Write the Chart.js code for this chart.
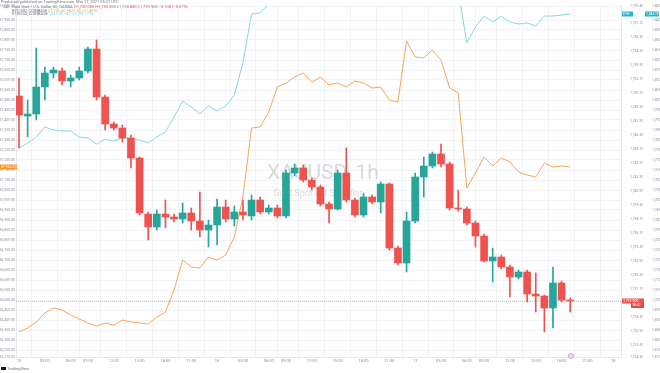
<!DOCTYPE html>
<html>
<head>
<meta charset="utf-8">
<script src="https://cdn.jsdelivr.net/npm/chart.js@4.4.1/dist/chart.umd.min.js"></script>
<style>
  html, body { margin: 0; padding: 0; background: #fff; }
  #wrap { width: 660px; height: 373px; position: relative; }
</style>
</head>
<body>
<div id="wrap"><canvas id="chart" width="660" height="373"></canvas></div>
<script>
// XAUUSD 1h candles
const opens = [1750.4,1748.4,1748.6,1751.3,1752.7,1752.9,1751.9,1752.2,1752.9,1755.1,
  1750.3,1747.6,1747.2,1746.2,1744.2,1738.6,1737.3,1738.6,1738.3,1738.1,
  1738.7,1737.9,1737.0,1737.5,1739.3,1738.1,1738.8,1738.4,1740.0,1738.8,
  1739.2,1738.4,1742.7,1743.2,1742.0,1741.3,1739.6,1739.1,1742.7,1740.0,
  1738.5,1740.3,1739.8,1741.6,1735.2,1733.7,1737.9,1742.3,1743.4,1744.6,
  1743.6,1739.2,1739.1,1737.7,1736.4,1733.9,1734.3,1733.3,1732.3,1732.8,
  1730.6,1730.4,1729.2,1731.7,1730.0];
const highs = [1752.2,1750.0,1755.2,1753.3,1753.3,1753.2,1752.5,1753.3,1755.3,1756.0,
  1750.5,1747.8,1747.5,1746.5,1744.3,1738.8,1739.0,1740.0,1738.6,1739.7,
  1739.2,1740.8,1738.0,1740.1,1740.0,1739.4,1740.0,1740.5,1740.3,1739.5,
  1739.5,1743.0,1743.6,1743.5,1742.2,1741.5,1739.8,1743.0,1745.2,1740.2,
  1740.7,1740.5,1741.8,1741.7,1735.4,1738.8,1742.7,1744.3,1744.8,1745.6,
  1743.8,1741.0,1739.3,1737.9,1736.6,1735.2,1734.5,1733.5,1733.0,1733.0,
  1732.7,1730.5,1733.3,1731.9,1730.2];
const lows = [1745.2,1746.3,1748.0,1750.0,1752.2,1751.5,1751.3,1752.0,1752.7,1750.0,
  1747.0,1747.0,1745.8,1743.2,1738.5,1736.0,1737.0,1737.2,1737.8,1737.7,
  1737.0,1736.3,1735.3,1735.5,1737.8,1737.4,1738.0,1738.0,1738.6,1738.6,
  1738.2,1738.2,1742.4,1741.8,1741.0,1739.4,1737.7,1739.0,1739.8,1738.3,
  1738.3,1739.6,1738.7,1735.0,1733.5,1732.8,1737.7,1740.3,1743.2,1743.3,
  1739.0,1738.9,1737.5,1735.3,1733.8,1731.8,1733.1,1730.3,1732.1,1729.8,
  1728.8,1726.8,1727.2,1729.8,1728.8];
const closes = [1748.5,1748.6,1751.3,1752.7,1753.0,1751.9,1752.2,1752.9,1755.1,1750.3,
  1747.6,1747.2,1746.2,1744.2,1738.7,1737.3,1738.6,1738.3,1738.1,1738.7,
  1737.9,1737.0,1737.5,1739.3,1738.1,1738.8,1738.5,1740.0,1738.8,1739.2,
  1738.4,1742.7,1743.2,1742.0,1741.3,1739.6,1739.1,1742.7,1740.0,1738.5,
  1740.3,1739.8,1741.6,1735.2,1733.7,1737.9,1742.3,1743.4,1744.6,1743.6,
  1739.2,1739.1,1737.7,1736.4,1733.9,1734.3,1733.3,1732.3,1732.8,1730.6,
  1730.4,1729.2,1731.7,1730.0,1729.9];

// compare series
const btcLine = [56340,56360,56390,56435,56460,56450,56425,56405,56385,56370,
  56385,56375,56400,56390,56385,56380,56415,56440,56550,56700,
  56665,56660,56715,56700,56725,56815,57015,57360,57365,57440,
  57565,57585,57615,57635,57590,57615,57575,57585,57565,57595,
  57585,57560,57565,57500,57490,57795,57715,57710,57750,57700,
  57560,57535,57060,57135,57215,57170,57210,57190,57140,57125,
  57115,57185,57165,57170,57165];
const ethLine = [1776.0,1778.5,1781.5,1786.5,1785.0,1784.5,1784.5,1781.5,1781.0,1778.0,
  1780.5,1779.5,1781.0,1780.5,1780.0,1778.5,1781.5,1784.0,1791.5,1799.5,
  1796.5,1793.0,1797.0,1794.5,1797.0,1802.5,1818.5,1843.0,1843.5,1848.0,
  1858,1862,1866,1870,1865,1868,1862,1866,1863,1867,
  1870,1866,1868,1864,1861,1874,1870,1869,1872,1868,
  1866,1855,1828.5,1836.5,1842.0,1839.0,1842.0,1839.0,1838.0,1838.5,
  1837.0,1842.0,1842.0,1842.5,1843.0];

// time axis
const tickIdx = [0,3,6,8,11,14,17,20,23,26,29,31,34,37,40,43,46,49,52,54,57,60,63,66,69];
const tickLabels = ['15','03:00','06:00','09:00','12:00','15:00','18:00','21:00',
  '16','03:00','06:00','09:00','12:00','15:00','18:00','21:00',
  '17','03:00','06:00','09:00','12:00','15:00','18:00','21:00','18'];

const GREEN = '#26a69a', RED = '#ef5350';
const ORANGE = '#f5a65a', CYAN = '#86d6e2';
const AXIS_TXT = '#8e919b';
const FONT = 'Roboto, "Liberation Sans", sans-serif';

const fmt = (v, d) => v.toFixed(d).replace(/\B(?=(\d{3})+(?!\d))/g, ',');
const idx = closes.map((_, i) => i);
const colors = closes.map((c, i) => c > opens[i] ? GREEN : RED);
const last = closes.length - 1;

const overlay = {
  id: 'overlay',
  beforeDatasetsDraw(chart) {
    const { ctx, chartArea: a } = chart;
    ctx.save();
    // watermark
    ctx.fillStyle = 'rgba(120,123,134,0.28)';
    ctx.textAlign = 'center';
    ctx.textBaseline = 'middle';
    ctx.font = '21px ' + FONT;
    ctx.fillText('XAUUSD, 1h', 323, 174);
    ctx.font = '9px ' + FONT;
    ctx.fillText('Gold Spot / U.S. Dollar', 318, 194);
    // last price line
    const py = Math.round(chart.scales.y.getPixelForValue(closes[last])) + 0.5;
    ctx.strokeStyle = 'rgba(239,83,80,0.45)';
    ctx.lineWidth = 1;
    ctx.setLineDash([1, 1]);
    ctx.beginPath();
    ctx.moveTo(a.left, py);
    ctx.lineTo(a.right, py);
    ctx.stroke();
    ctx.restore();
  },
  afterDraw(chart) {
    const { ctx, chartArea: a } = chart;
    ctx.save();
    ctx.textBaseline = 'middle';
    ctx.textAlign = 'left';

    // header
    ctx.font = '4px ' + FONT;
    ctx.fillStyle = '#6f7380';
    ctx.fillText('Produced/published on TradingView.com, Mar 17, 2021 05:21 UTC', 1, 2);
    ctx.fillStyle = '#e9ecf2';
    ctx.fillRect(3, 5.5, 5, 3);
    ctx.fillStyle = '#6f7380';
    ctx.font = '3px ' + FONT;
    ctx.fillText('XAU', 3.5, 7);
    ctx.font = '4px ' + FONT;
    ctx.fillText('Gold Spot / U.S. Dollar, 60, OANDA', 12, 7);
    ctx.fillStyle = RED;
    ctx.fillText('O' + fmt(opens[last], 3) + ' H' + fmt(highs[last], 3) + ' L' + fmt(lows[last], 3) +
      ' C' + fmt(closes[last], 3) + ' \u22120.100 (\u22120.01%)', 74, 7);
    ctx.fillStyle = '#6f7380';
    ctx.fillText('BTCUSD, COINBASE', 12, 10.5);
    ctx.fillStyle = ORANGE;
    ctx.fillText(fmt(btcLine[last], 2) + ' +825.00 (+1.46%)', 48, 10.5);
    ctx.fillStyle = '#6f7380';
    ctx.fillText('ETHUSD, COINBASE', 12, 14);
    ctx.fillStyle = CYAN;
    ctx.fillText(fmt(ethLine[last], 2) + ' +67.00 (+3.77%)', 48, 14);

    // axis value labels
    const label = (x, y, w, bg, txt) => {
      ctx.fillStyle = bg;
      ctx.fillRect(x, y - 2.5, w, 5);
      ctx.fillStyle = '#fff';
      ctx.font = '3.5px ' + FONT;
      ctx.fillText(txt, x + 1, y);
    };
    const oy = chart.scales.yO.getPixelForValue(btcLine[last]);
    label(0, oy, 17, '#f7931a', fmt(btcLine[last], 2));
    const cy = chart.scales.yC.getPixelForValue(ethLine[last]);
    label(a.right + 1, cy, 11, '#26b5c8', 'ETH');
    label(a.right + 24, cy, 14, '#26b5c8', fmt(ethLine[last], 2));
    const py = chart.scales.y.getPixelForValue(closes[last]);
    label(a.right + 1, py, 22, RED, fmt(closes[last], 3));
    label(a.right + 10, py + 4.5, 13, '#e04848', '38:42');

    // event marker
    ctx.strokeStyle = '#d9a0d6';
    ctx.fillStyle = '#f3dcf2';
    ctx.beginPath();
    ctx.arc(571, a.bottom - 1, 2.5, 0, Math.PI * 2);
    ctx.fill();
    ctx.stroke();

    // footer
    ctx.fillStyle = '#131722';
    ctx.fillRect(1, 367, 5, 3);
    ctx.fillStyle = '#6f7380';
    ctx.font = '4px ' + FONT;
    ctx.fillText('TradingView', 7, 368.5);
    ctx.restore();
  }
};

new Chart(document.getElementById('chart'), {
  data: {
    datasets: [
      {
        type: 'line', label: 'BTCUSD', yAxisID: 'yO', order: 4,
        data: idx.map(i => ({ x: i, y: btcLine[i] })),
        borderColor: ORANGE, borderWidth: 1, pointRadius: 0, tension: 0
      },
      {
        type: 'line', label: 'ETHUSD', yAxisID: 'yC', order: 3,
        data: idx.map(i => ({ x: i, y: ethLine[i] })),
        borderColor: CYAN, borderWidth: 1, pointRadius: 0, tension: 0
      },
      {
        type: 'bar', label: 'wick', yAxisID: 'y', order: 2, grouped: false,
        data: idx.map(i => ({ x: i, y: [lows[i], highs[i]] })),
        backgroundColor: colors, barThickness: 1, borderWidth: 0
      },
      {
        type: 'bar', label: 'body', yAxisID: 'y', order: 1, grouped: false,
        data: idx.map(i => ({ x: i, y: [opens[i], closes[i]] })),
        backgroundColor: colors, barThickness: 7, minBarLength: 1, borderWidth: 0
      }
    ]
  },
  options: {
    responsive: false,
    animation: false,
    layout: { padding: { top: 6, bottom: 6, left: 0, right: 0 } },
    plugins: { legend: { display: false }, tooltip: { enabled: false } },
    scales: {
      x: {
        type: 'linear', min: -0.35, max: 69.9, offset: false,
        afterFit: s => { s.height = 10; s.paddingLeft = 0; s.paddingRight = 0; },
        afterBuildTicks: s => { s.ticks = tickIdx.map(v => ({ value: v })); },
        ticks: {
          autoSkip: false, maxRotation: 0, padding: 2, color: AXIS_TXT,
          font: { size: 4, family: FONT },
          callback: (v, i) => tickLabels[i]
        },
        grid: { color: '#f1f3f7', drawTicks: false },
        border: { color: '#e6e8ee' }
      },
      yO: {
        position: 'left', min: 56215, max: 57970,
        afterFit: s => { s.width = 16; s.paddingTop = 0; s.paddingBottom = 0; },
        ticks: {
          stepSize: 50, padding: 1, color: AXIS_TXT, font: { size: 3.5, family: FONT },
          callback: v => fmt(v, 2)
        },
        grid: { color: '#f1f3f7', drawTicks: false },
        border: { color: '#e6e8ee' }
      },
      y: {
        position: 'right', min: 1724.3, max: 1759.4,
        afterFit: s => { s.width = 22; s.paddingTop = 0; s.paddingBottom = 0; },
        ticks: {
          stepSize: 0.7, padding: 1, color: AXIS_TXT, font: { size: 3.5, family: FONT },
          callback: v => fmt(v, 3)
        },
        grid: { display: false },
        border: { color: '#e6e8ee' }
      },
      yC: {
        position: 'right', min: 1671.5, max: 1847,
        afterFit: s => { s.width = 17; s.paddingTop = 0; s.paddingBottom = 0; },
        ticks: {
          stepSize: 5, padding: 1, color: AXIS_TXT, font: { size: 3.5, family: FONT },
          callback: v => fmt(v, 2)
        },
        grid: { display: false },
        border: { display: false }
      }
    }
  },
  plugins: [overlay]
});
</script>
</body>
</html>
